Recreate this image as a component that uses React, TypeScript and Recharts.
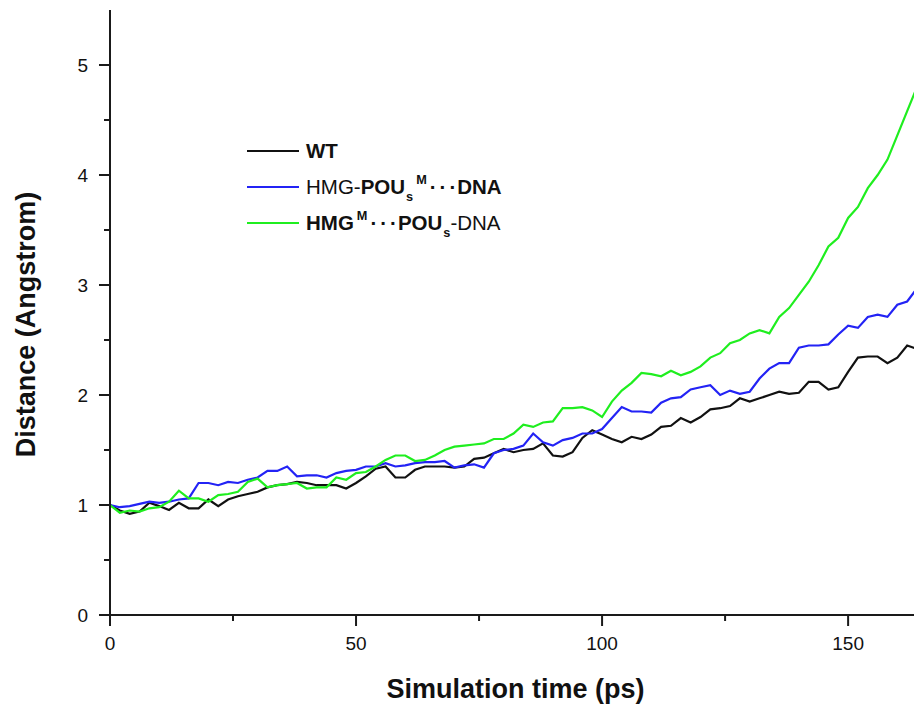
import React from 'react';
import { LineChart, Line, XAxis, YAxis, Legend } from 'recharts';

const FONT = '"Liberation Sans", Arial, Helvetica, sans-serif';

const time = [
  0, 2, 4, 6, 8, 10, 12, 14, 16, 18,
  20, 22, 24, 26, 28, 30, 32, 34, 36, 38,
  40, 42, 44, 46, 48, 50, 52, 54, 56, 58,
  60, 62, 64, 66, 68, 70, 72, 74, 76, 78,
  80, 82, 84, 86, 88, 90, 92, 94, 96, 98,
  100, 102, 104, 106, 108, 110, 112, 114, 116, 118,
  120, 122, 124, 126, 128, 130, 132, 134, 136, 138,
  140, 142, 144, 146, 148, 150, 152, 154, 156, 158,
  160, 162, 164,
];

const wt = [
  1.0, 0.95, 0.92, 0.94, 1.02, 0.99, 0.955, 1.02, 0.97, 0.97,
  1.05, 0.99, 1.05, 1.08, 1.1, 1.12, 1.16, 1.18, 1.19, 1.21,
  1.2, 1.18, 1.18, 1.18, 1.15, 1.2, 1.26, 1.33, 1.35, 1.25,
  1.25, 1.32, 1.35, 1.35, 1.35, 1.34, 1.35, 1.42, 1.43, 1.47,
  1.51, 1.48, 1.5, 1.51, 1.56, 1.45, 1.44, 1.48, 1.61, 1.68,
  1.64, 1.6, 1.57, 1.62, 1.6, 1.64, 1.71, 1.72, 1.79, 1.75,
  1.8, 1.87, 1.88, 1.9, 1.97, 1.94, 1.97, 2.0, 2.03, 2.01,
  2.02, 2.12, 2.12, 2.05, 2.07, 2.21, 2.34, 2.35, 2.35, 2.29,
  2.34, 2.45, 2.42,
];

const hmgPouM = [
  1.0, 0.98, 0.99, 1.01, 1.03, 1.02, 1.03, 1.05, 1.06, 1.2,
  1.2, 1.18, 1.21, 1.2, 1.23, 1.25, 1.31, 1.31, 1.35, 1.26,
  1.27, 1.27, 1.25, 1.29, 1.31, 1.32, 1.35, 1.35, 1.38, 1.35,
  1.36, 1.38, 1.39, 1.39, 1.4, 1.34, 1.36, 1.37, 1.34, 1.47,
  1.5, 1.51, 1.54, 1.65, 1.57, 1.54, 1.59, 1.61, 1.65, 1.65,
  1.69, 1.79, 1.89, 1.85, 1.85, 1.84, 1.93, 1.97, 1.98, 2.05,
  2.07, 2.09, 2.0, 2.04, 2.01, 2.03, 2.15, 2.24, 2.29, 2.29,
  2.43, 2.45, 2.45, 2.46, 2.55, 2.63, 2.61, 2.71, 2.73, 2.71,
  2.82, 2.85, 2.97,
];

const hmgMPou = [
  1.0, 0.93, 0.95, 0.94, 0.97, 0.98, 1.03, 1.13, 1.06, 1.06,
  1.03, 1.09, 1.1, 1.12, 1.21, 1.24, 1.16, 1.18, 1.19, 1.2,
  1.15, 1.16, 1.16, 1.25, 1.23, 1.29, 1.3, 1.35, 1.41, 1.45,
  1.45, 1.4, 1.41, 1.45, 1.5, 1.53, 1.54, 1.55, 1.56, 1.6,
  1.6, 1.65, 1.73, 1.71, 1.75, 1.76, 1.88, 1.88, 1.89, 1.86,
  1.8, 1.94, 2.04, 2.11, 2.2, 2.19, 2.17, 2.22, 2.18, 2.21,
  2.26, 2.34, 2.38, 2.47, 2.5, 2.56, 2.59, 2.56, 2.71, 2.79,
  2.91, 3.03, 3.18, 3.35, 3.43, 3.61, 3.71, 3.88, 4.0, 4.14,
  4.36, 4.58, 4.8,
];

const seriesOrder = ['wt', 'blue', 'green'];
const xTicks = [0, 25, 50, 75, 100, 125, 150];
const yTicks = [0, 0.5, 1, 1.5, 2, 2.5, 3, 3.5, 4, 4.5, 5];
const xDomain: [number, number] = [0, 164];
const yDomain: [number, number] = [0, 5.5];

const data = time.map((t, i) => ({
  t,
  wt: wt[i],
  blue: hmgPouM[i],
  green: hmgMPou[i],
}));

const AXIS = '#1a1a1a';
const MAJOR = 11;
const MINOR = 6;

const isMajorX = (v: number) => v % 50 === 0;
const isMajorY = (v: number) => Number.isInteger(v);

function BottomTick(props: any) {
  const { x, y, payload } = props;
  const major = isMajorX(payload.value);
  return (
    <g>
      <line x1={x} x2={x} y1={y} y2={y + (major ? MAJOR : MINOR)} stroke={AXIS} strokeWidth={2} />
      {major && (
        <text x={x} y={y + 35} textAnchor="middle" fontSize={19} fontFamily={FONT} fill="#111">
          {payload.value}
        </text>
      )}
    </g>
  );
}

function TopTick(props: any) {
  const { x, y, payload } = props;
  const major = isMajorX(payload.value);
  return <line x1={x} x2={x} y1={y} y2={y + (major ? MAJOR : MINOR)} stroke={AXIS} strokeWidth={2} />;
}

function LeftTick(props: any) {
  const { x, y, payload } = props;
  const major = isMajorY(payload.value);
  return (
    <g>
      <line x1={x - (major ? MAJOR : MINOR)} x2={x} y1={y} y2={y} stroke={AXIS} strokeWidth={2} />
      {major && (
        <text x={x - 22} y={y} dy="0.36em" textAnchor="end" fontSize={19} fontFamily={FONT} fill="#111">
          {payload.value}
        </text>
      )}
    </g>
  );
}

function RightTick(props: any) {
  const { x, y, payload } = props;
  const major = isMajorY(payload.value);
  return <line x1={x - (major ? MAJOR : MINOR)} x2={x} y1={y} y2={y} stroke={AXIS} strokeWidth={2} />;
}

const subStyle: React.CSSProperties = { fontSize: '0.62em', verticalAlign: '-0.55em', lineHeight: 0, marginLeft: 1 };
const supStyle: React.CSSProperties = { fontSize: '0.62em', verticalAlign: '0.75em', lineHeight: 0, marginLeft: 3 };
const dots = <span style={{ letterSpacing: '3px', margin: '0 -2px 0 3px' }}>{'\u00B7\u00B7\u00B7'}</span>;

const legendLabels: Record<string, React.ReactNode> = {
  wt: <b>WT</b>,
  blue: (
    <>
      HMG-
      <b>
        POU<span style={subStyle}>s</span>
        <span style={supStyle}>M</span>
        {dots}DNA
      </b>
    </>
  ),
  green: (
    <>
      <b>
        HMG<span style={supStyle}>M</span>
        {dots}POU<span style={subStyle}>s</span>
      </b>
      -DNA
    </>
  ),
};

function LegendContent(props: any) {
  const { payload } = props;
  const items = [...(payload || [])].sort(
    (a: any, b: any) => seriesOrder.indexOf(String(a.dataKey)) - seriesOrder.indexOf(String(b.dataKey)),
  );
  return (
    <div style={{ fontFamily: FONT, fontSize: 20.5, color: '#111' }}>
      {items.map((entry: any) => (
        <div
          key={String(entry.dataKey)}
          style={{ display: 'flex', alignItems: 'center', height: 36, whiteSpace: 'nowrap' }}
        >
          <svg width={52} height={4} style={{ marginRight: 7, flex: 'none' }}>
            <line x1={0} x2={52} y1={2} y2={2} stroke={entry.color} strokeWidth={2} />
          </svg>
          <span>{legendLabels[String(entry.dataKey)]}</span>
        </div>
      ))}
    </div>
  );
}

function XLabel(props: any) {
  const { viewBox } = props;
  return (
    <text
      x={viewBox.x + viewBox.width / 2 + 2}
      y={viewBox.y + 83}
      textAnchor="middle"
      fontSize={27}
      fontWeight="bold"
      fontFamily={FONT}
      fill="#111"
    >
      Simulation time (ps)
    </text>
  );
}

function YLabel(props: any) {
  const { viewBox } = props;
  const cx = viewBox.x + 35;
  const cy = viewBox.y + viewBox.height / 2 + 12;
  return (
    <text
      x={cx}
      y={cy}
      textAnchor="middle"
      fontSize={27}
      fontWeight="bold"
      fontFamily={FONT}
      fill="#111"
      transform={`rotate(-90, ${cx}, ${cy})`}
    >
      Distance (Angstrom)
    </text>
  );
}

export default function App() {
  return (
    <div style={{ position: 'absolute', left: 0, top: 0, width: 914, height: 704, overflow: 'hidden', background: '#fff' }}>
      <LineChart width={920} height={704} data={data} margin={{ top: 10, right: 3, bottom: 0, left: 0 }}>
        <XAxis
          xAxisId="bottom"
          dataKey="t"
          type="number"
          domain={xDomain}
          allowDataOverflow
          ticks={xTicks}
          interval={0}
          tickSize={0}
          tickMargin={0}
          tickLine={false}
          tick={<BottomTick />}
          axisLine={{ stroke: AXIS, strokeWidth: 2 }}
          height={89}
          label={<XLabel />}
        />
        <XAxis
          xAxisId="top"
          orientation="top"
          dataKey="t"
          type="number"
          domain={xDomain}
          allowDataOverflow
          ticks={xTicks}
          interval={0}
          tickSize={0}
          tickMargin={0}
          tickLine={false}
          tick={<TopTick />}
          axisLine={{ stroke: AXIS, strokeWidth: 2 }}
          height={0}
        />
        <YAxis
          yAxisId="left"
          type="number"
          domain={yDomain}
          allowDataOverflow
          ticks={yTicks}
          interval={0}
          tickSize={0}
          tickMargin={0}
          tickLine={false}
          tick={<LeftTick />}
          axisLine={{ stroke: AXIS, strokeWidth: 2 }}
          width={110}
          label={<YLabel />}
        />
        <YAxis
          yAxisId="right"
          orientation="right"
          type="number"
          domain={yDomain}
          allowDataOverflow
          ticks={yTicks}
          interval={0}
          tickSize={0}
          tickMargin={0}
          tickLine={false}
          tick={<RightTick />}
          axisLine={{ stroke: AXIS, strokeWidth: 2 }}
          width={0}
        />
        <Legend
          layout="vertical"
          align="center"
          verticalAlign="middle"
          content={<LegendContent />}
          wrapperStyle={{ left: 247, top: 133, width: 320 }}
        />
        <Line
          xAxisId="bottom"
          yAxisId="left"
          dataKey="wt"
          name="WT"
          stroke="#111111"
          strokeWidth={2.2}
          dot={false}
          isAnimationActive={false}
        />
        <Line
          xAxisId="bottom"
          yAxisId="left"
          dataKey="blue"
          name="HMG-POUs M···DNA"
          stroke="#2323f5"
          strokeWidth={2.2}
          dot={false}
          isAnimationActive={false}
        />
        <Line
          xAxisId="top"
          yAxisId="right"
          dataKey="green"
          name="HMG M···POUs-DNA"
          stroke="#1fee1f"
          strokeWidth={2.2}
          dot={false}
          isAnimationActive={false}
        />
      </LineChart>
    </div>
  );
}
